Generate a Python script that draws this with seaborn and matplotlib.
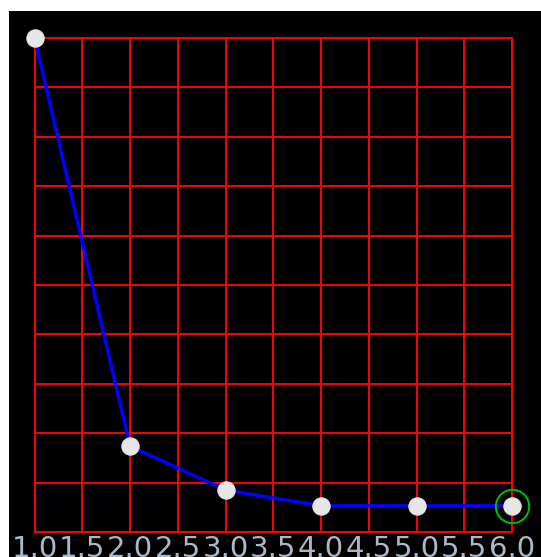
import matplotlib
matplotlib.use("Agg")
import matplotlib.pyplot as plt
from matplotlib.patches import Rectangle
import seaborn as sns
import numpy as np

# values
steps = [1, 2, 3, 4, 5, 6]
values = [1.0, 0.174, 0.085, 0.053, 0.053, 0.053]
xticks = [1.0, 1.5, 2.0, 2.5, 3.0, 3.5, 4.0, 4.5, 5.0, 5.5, 6.0]
yticks = [0.0, 0.1, 0.2, 0.3, 0.4, 0.5, 0.6, 0.7, 0.8, 0.9, 1.0]

sns.set_style("dark")
plt.rcParams['font.family'] = ['DejaVu Sans']

W, H = 541, 557
fig = plt.figure(figsize=(W / 100, H / 100), dpi=100)
fig.patch.set_facecolor('white')
# black panel, white strip on top and left
fig.add_artist(Rectangle((9 / W, 0), 1 - 9 / W, (H - 11) / H,
                         transform=fig.transFigure, facecolor='black',
                         edgecolor='none', zorder=-1))

ax = fig.add_axes([34.5 / W, (H - 532) / H, (512 - 34.5) / W, (532 - 38) / H])
ax.set_facecolor('black')

sns.lineplot(x=steps, y=values, ax=ax, color='#0000ff', linewidth=2.5,
             marker='o', markersize=12.5, markerfacecolor='#e6e6e6',
             markeredgecolor='#e6e6e6', clip_on=False, zorder=5)
# highlighted last point
ax.plot(steps[-1], values[-1], marker='o', markersize=24,
        markerfacecolor='none', markeredgecolor='#00c000',
        markeredgewidth=1.4, clip_on=False, zorder=6)

ax.set_xlim(1, 6)
ax.set_ylim(0, 1)
ax.set_xticks(xticks)
ax.set_xticklabels(['%.1f' % t for t in xticks])
ax.set_yticks(yticks)
ax.set_yticklabels([])
ax.tick_params(axis='both', length=0)
ax.tick_params(axis='x', pad=2, labelsize=21, labelcolor='#aab8c8')
ax.grid(True, color='#ff0000', linewidth=1.4)
ax.set_axisbelow(True)
for s in ax.spines.values():
    s.set_color('#ff0000')
    s.set_linewidth(1.4)
ax.set_xlabel('')
ax.set_ylabel('')

fig.savefig('out.png', dpi=100, facecolor=fig.get_facecolor())
